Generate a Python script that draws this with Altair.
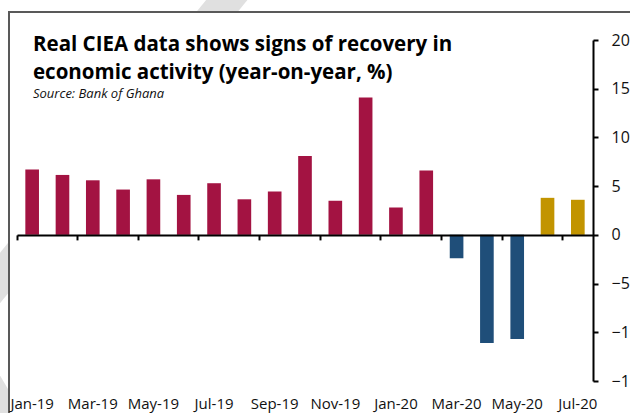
import altair as alt
import pandas as pd

months = ["Jan-19", "Feb-19", "Mar-19", "Apr-19", "May-19", "Jun-19", "Jul-19",
          "Aug-19", "Sep-19", "Oct-19", "Nov-19", "Dec-19", "Jan-20", "Feb-20",
          "Mar-20", "Apr-20", "May-20", "Jun-20", "Jul-20"]
values = [6.7, 6.15, 5.6, 4.65, 5.7, 4.1, 5.3, 3.65, 4.45, 8.1, 3.5, 14.1,
          2.8, 6.6, -2.4, -11.1, -10.7, 3.8, 3.6]
phase = ["pre"] * 14 + ["covid"] * 3 + ["recovery"] * 2
phase_domain = ["pre", "covid", "recovery"]
phase_colors = ["#A31342", "#1F4E79", "#C29400"]
label_months = months[::2]
y_ticks = [-15, -10, -5, 0, 5, 10, 15, 20]

df = pd.DataFrame({"month": months, "value": values, "phase": phase})

FONT = "Open Sans"
W, H = 576, 341

x_labels = alt.X(
    "month:O", sort=months, title=None,
    scale=alt.Scale(paddingInner=0, paddingOuter=0),
    axis=alt.Axis(orient="bottom", values=label_months, labelAngle=0, ticks=False,
                  tickSize=0, domain=False, labelPadding=15, labelFont=FONT,
                  labelFontSize=15, labelColor="#111111", grid=False, zindex=1),
)

bars = alt.Chart(df).mark_bar(width=alt.RelativeBandSize(0.45)).encode(
    x=x_labels,
    y=alt.Y("value:Q", title=None,
            scale=alt.Scale(domain=[-15, 20], nice=False, zero=False),
            axis=alt.Axis(orient="right", values=y_ticks, grid=False,
                          domainColor="black", domainWidth=2, tickColor="black",
                          tickWidth=2, tickSize=5, labelPadding=13, labelFont=FONT,
                          labelFontSize=16, labelColor="#111111", zindex=1)),
    color=alt.Color("phase:N", scale=alt.Scale(domain=phase_domain, range=phase_colors),
                    legend=None),
)

zero_axis = alt.Chart(df).mark_rule(opacity=0).encode(
    x=alt.X("month:O", sort=months, title=None,
            axis=alt.Axis(orient="bottom", values=label_months, labels=False,
                          offset=-146.1, bandPosition=0, domainColor="black",
                          domainWidth=2, tickColor="black", tickWidth=2, tickSize=5,
                          grid=False, zindex=1)),
)

frame_df = pd.DataFrame({"k": [0]})
# off-canvas anchor so the title position does not depend on decoration bounds
anchor_rule = alt.Chart(frame_df).mark_rule(color="white", strokeWidth=1).encode(
    x=alt.value(0), x2=alt.value(10), y=alt.value(-100))
# light grey watermark stripes outside the white panel
stripe1 = alt.Chart(frame_df).mark_rule(color="#E0E0E0", strokeWidth=32, strokeCap="butt").encode(
    x=alt.value(222), y=alt.value(-55), x2=alt.value(-35), y2=alt.value(260))
stripe2 = alt.Chart(frame_df).mark_rule(color="#E0E0E0", strokeWidth=22, strokeCap="butt").encode(
    x=alt.value(-30), y=alt.value(335), x2=alt.value(20), y2=alt.value(420))
panel = alt.Chart(frame_df).mark_rect(color="white").encode(
    x=alt.value(-8), x2=alt.value(640), y=alt.value(-27), y2=alt.value(420))
frame_left = alt.Chart(frame_df).mark_rect(color="#595959").encode(
    x=alt.value(-9), x2=alt.value(-7), y=alt.value(-29), y2=alt.value(420))
frame_top = alt.Chart(frame_df).mark_rect(color="#595959").encode(
    x=alt.value(-9), x2=alt.value(640), y=alt.value(-29), y2=alt.value(-27))

chart = alt.layer(anchor_rule, stripe1, stripe2, panel, frame_left, frame_top, bars,
                  zero_axis).resolve_axis(
    x="independent"
).properties(
    width=W, height=H,
    padding={"left": 17, "top": 40, "right": 37, "bottom": 32},
    autosize=alt.AutoSizeParams(type="none"),
    title=alt.TitleParams(
        text=["Real CIEA data shows signs of recovery in",
              "economic activity (year-on-year, %)"],
        subtitle="Source: Bank of Ghana",
        anchor="start", frame="group", dx=16, dy=161.5, offset=0,
        font=FONT, fontSize=20.5, fontWeight="bold", color="black", lineHeight=28,
        subtitleFont=FONT, subtitleFontSize=13, subtitleFontStyle="italic",
        subtitleColor="#111111", subtitlePadding=5,
    ),
).configure_view(stroke=None)

chart.save("out.html", embed_options={"renderer": "svg", "actions": False})
